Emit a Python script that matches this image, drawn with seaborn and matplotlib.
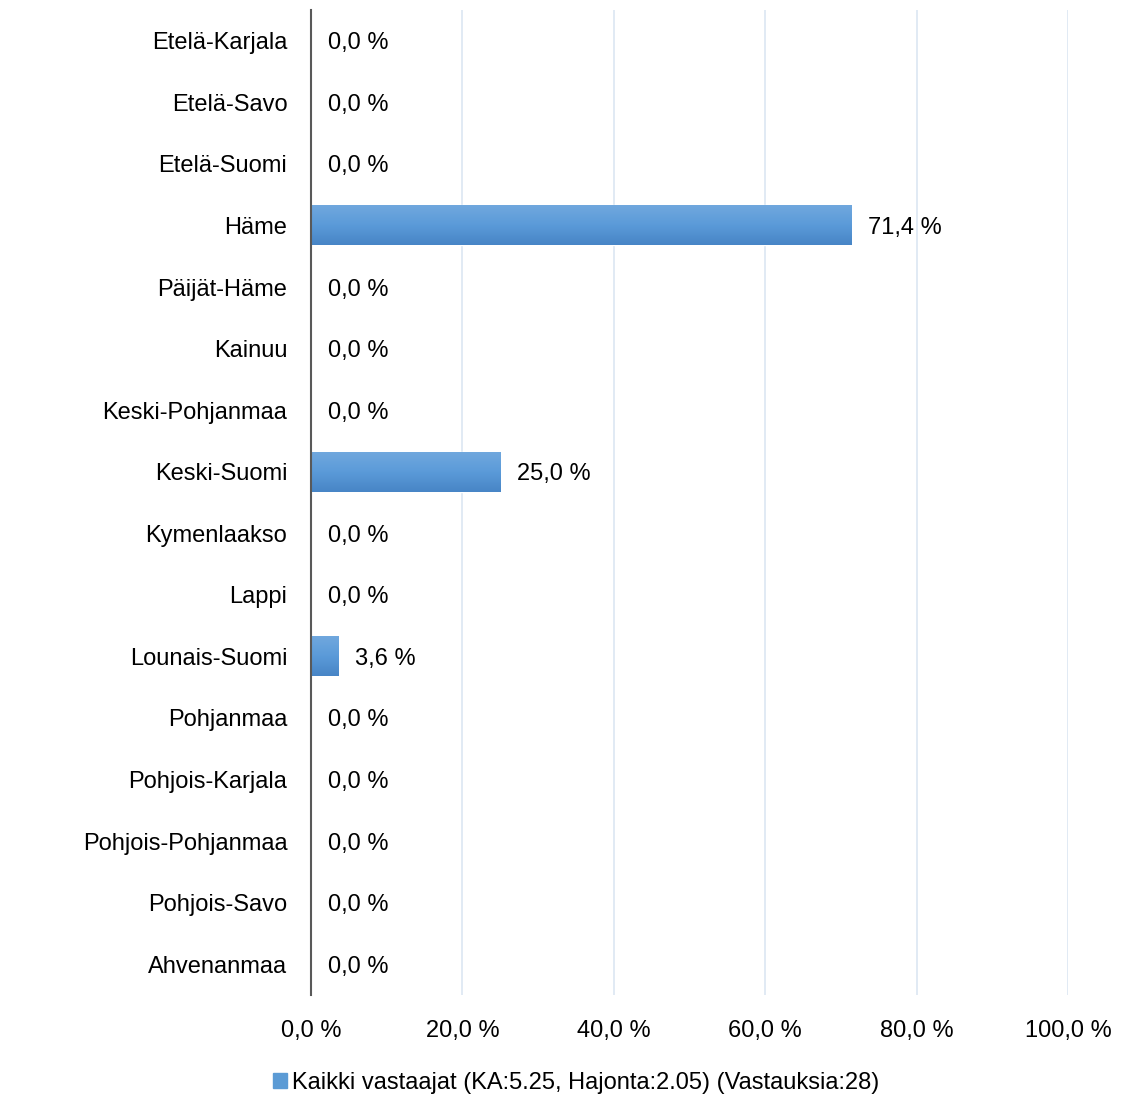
import matplotlib
matplotlib.use("Agg")
import matplotlib.pyplot as plt
import numpy as np
import pandas as pd
import seaborn as sns
from matplotlib.colors import LinearSegmentedColormap

regions = [
    "Etelä-Karjala", "Etelä-Savo", "Etelä-Suomi", "Häme", "Päijät-Häme",
    "Kainuu", "Keski-Pohjanmaa", "Keski-Suomi", "Kymenlaakso", "Lappi",
    "Lounais-Suomi", "Pohjanmaa", "Pohjois-Karjala", "Pohjois-Pohjanmaa",
    "Pohjois-Savo", "Ahvenanmaa",
]
shares = [0.0, 0.0, 0.0, 71.4, 0.0, 0.0, 0.0, 25.0, 0.0, 0.0,
          3.6, 0.0, 0.0, 0.0, 0.0, 0.0]
x_ticks = [0, 20, 40, 60, 80, 100]
series_label = "Kaikki vastaajat (KA:5.25, Hajonta:2.05) (Vastauksia:28)"


def fi_pct(v: float) -> str:
    return f"{v:.1f}".replace(".", ",") + " %"


sns.set_theme(style="white")
plt.rcParams["font.family"] = ["Liberation Sans", "DejaVu Sans"]
plt.rcParams["text.color"] = "black"
plt.rcParams["xtick.color"] = "black"
plt.rcParams["ytick.color"] = "black"

df = pd.DataFrame({"region": regions, "share": shares})

fig = plt.figure(figsize=(11.3, 10.98), dpi=100)
ax = fig.add_axes([0.2752, 0.0938, 0.6699, 0.8971])

bar_color = "#5B9BD5"
sns.barplot(data=df, y="region", x="share", orient="h", color=bar_color,
            width=0.65, ax=ax, saturation=1)

# gradient fill on each bar
grad = LinearSegmentedColormap.from_list("g", ["#71A8DE", "#5B9BD9", "#4785C6"])
for p in ax.patches:
    w = p.get_width()
    if w <= 0:
        continue
    x0, y0, h = p.get_x(), p.get_y(), p.get_height()
    im = ax.imshow(np.linspace(0, 1, 64).reshape(-1, 1), cmap=grad,
                   extent=[x0, x0 + w, y0 + h, y0], aspect="auto", zorder=2,
                   origin="upper")
    im.set_clip_path(p)

ax.set_xlim(0, 100)
ax.set_ylim(len(regions) - 0.5, -0.5)
ax.set_xticks(x_ticks)
ax.set_xticklabels([fi_pct(t) for t in x_ticks], fontsize=17)
ax.tick_params(axis="x", length=0, pad=18)
ax.tick_params(axis="y", length=0, pad=17, labelsize=17)
ax.set_xlabel("")
ax.set_ylabel("")

for t in x_ticks[1:]:
    ax.axvline(t, color="#DCE6F2", linewidth=1.2, zorder=0)

for s in ["top", "right", "bottom"]:
    ax.spines[s].set_visible(False)
ax.spines["left"].set_color("#595959")
ax.spines["left"].set_linewidth(1.5)
ax.spines["left"].set_zorder(3)

for i, v in enumerate(shares):
    ax.text(v + 2.2, i, fi_pct(v), va="center_baseline", ha="left",
            fontsize=17, color="black")

handle = plt.Rectangle((0, 0), 1, 1, color=bar_color)
fig.legend([handle], [series_label], loc="center", bbox_to_anchor=(0.51, 0.014),
           frameon=False, fontsize=17, handlelength=0.6, handleheight=0.6,
           handletextpad=0.2)

fig.savefig("out.png", dpi=100)
